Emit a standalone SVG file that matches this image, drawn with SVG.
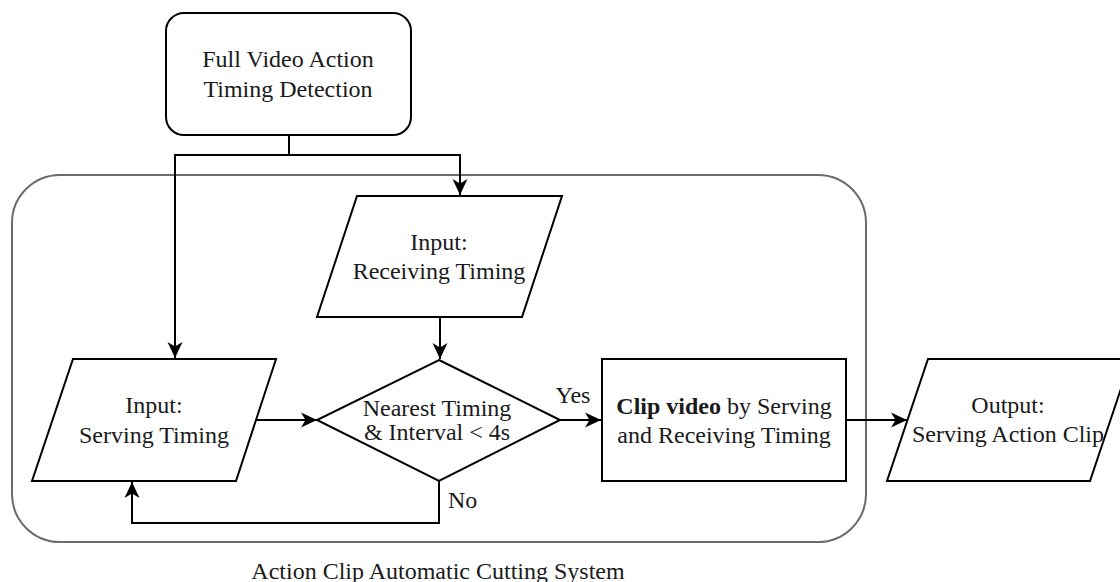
<svg xmlns="http://www.w3.org/2000/svg" width="1120" height="582" viewBox="0 0 1120 582">
  <defs>
    <marker id="arr" markerUnits="userSpaceOnUse" markerWidth="17" markerHeight="16" refX="16" refY="7.5" orient="auto" viewBox="0 0 17 15">
      <path d="M0,0 L16,7.5 L0,15 L4.5,7.5 Z" fill="#000"/>
    </marker>
    <style>
      .shape { fill: #fff; stroke: #000; stroke-width: 2; }
      .edge { fill: none; stroke: #000; stroke-width: 2; }
      .lbl { font-family: "Liberation Serif", "Times New Roman", serif; font-size: 24px; fill: #1a1a1a; text-anchor: middle; }
    </style>
  </defs>

  <g id="system-container">
    <rect x="12" y="175" width="854" height="367" rx="48" ry="48" fill="none" stroke="#6b6b6b" stroke-width="2"/>
    <text class="lbl" x="438" y="579">Action Clip Automatic Cutting System</text>
  </g>

  <g id="connectors">
    <path class="edge" d="M289,135 V155 H175 V358" marker-end="url(#arr)"/>
    <path class="edge" d="M289,155 H460 V195" marker-end="url(#arr)"/>
    <path class="edge" d="M440,317 V359" marker-end="url(#arr)"/>
    <path class="edge" d="M256,420 H317" marker-end="url(#arr)"/>
    <path class="edge" d="M560,420 H601" marker-end="url(#arr)"/>
    <path class="edge" d="M846,420 H907" marker-end="url(#arr)"/>
    <path class="edge" d="M439,481 V523 H132 V482" marker-end="url(#arr)"/>
    <text class="lbl" x="573" y="403">Yes</text>
    <text class="lbl" x="448" y="508" style="text-anchor:start">No</text>
  </g>

  <g id="full-video-detection">
    <rect class="shape" x="166" y="13" width="245" height="122" rx="18" ry="18"/>
    <text class="lbl" x="288" y="67">Full Video Action</text>
    <text class="lbl" x="288" y="97">Timing Detection</text>
  </g>

  <g id="input-receiving">
    <polygon class="shape" points="357,196 562,196 522,317 317,317"/>
    <text class="lbl" x="439" y="250">Input:</text>
    <text class="lbl" x="439" y="279">Receiving Timing</text>
  </g>

  <g id="input-serving">
    <polygon class="shape" points="73,359 276,359 236,481 32,481"/>
    <text class="lbl" x="154" y="413">Input:</text>
    <text class="lbl" x="154" y="443">Serving Timing</text>
  </g>

  <g id="decision">
    <polygon class="shape" points="439,360 560,420 439,481 317,420"/>
    <text class="lbl" x="437" y="416">Nearest Timing</text>
    <text class="lbl" x="437" y="440">&amp; Interval &lt; 4s</text>
  </g>

  <g id="clip-video">
    <rect class="shape" x="602" y="359" width="244" height="122"/>
    <text class="lbl" x="724" y="414"><tspan font-weight="bold">Clip video</tspan> by Serving</text>
    <text class="lbl" x="724" y="443">and Receiving Timing</text>
  </g>

  <g id="output-clip">
    <polygon class="shape" points="928,359 1131,359 1090,481 887,481"/>
    <text class="lbl" x="1008" y="413">Output:</text>
    <text class="lbl" x="1008" y="442">Serving Action Clip</text>
  </g>
</svg>
